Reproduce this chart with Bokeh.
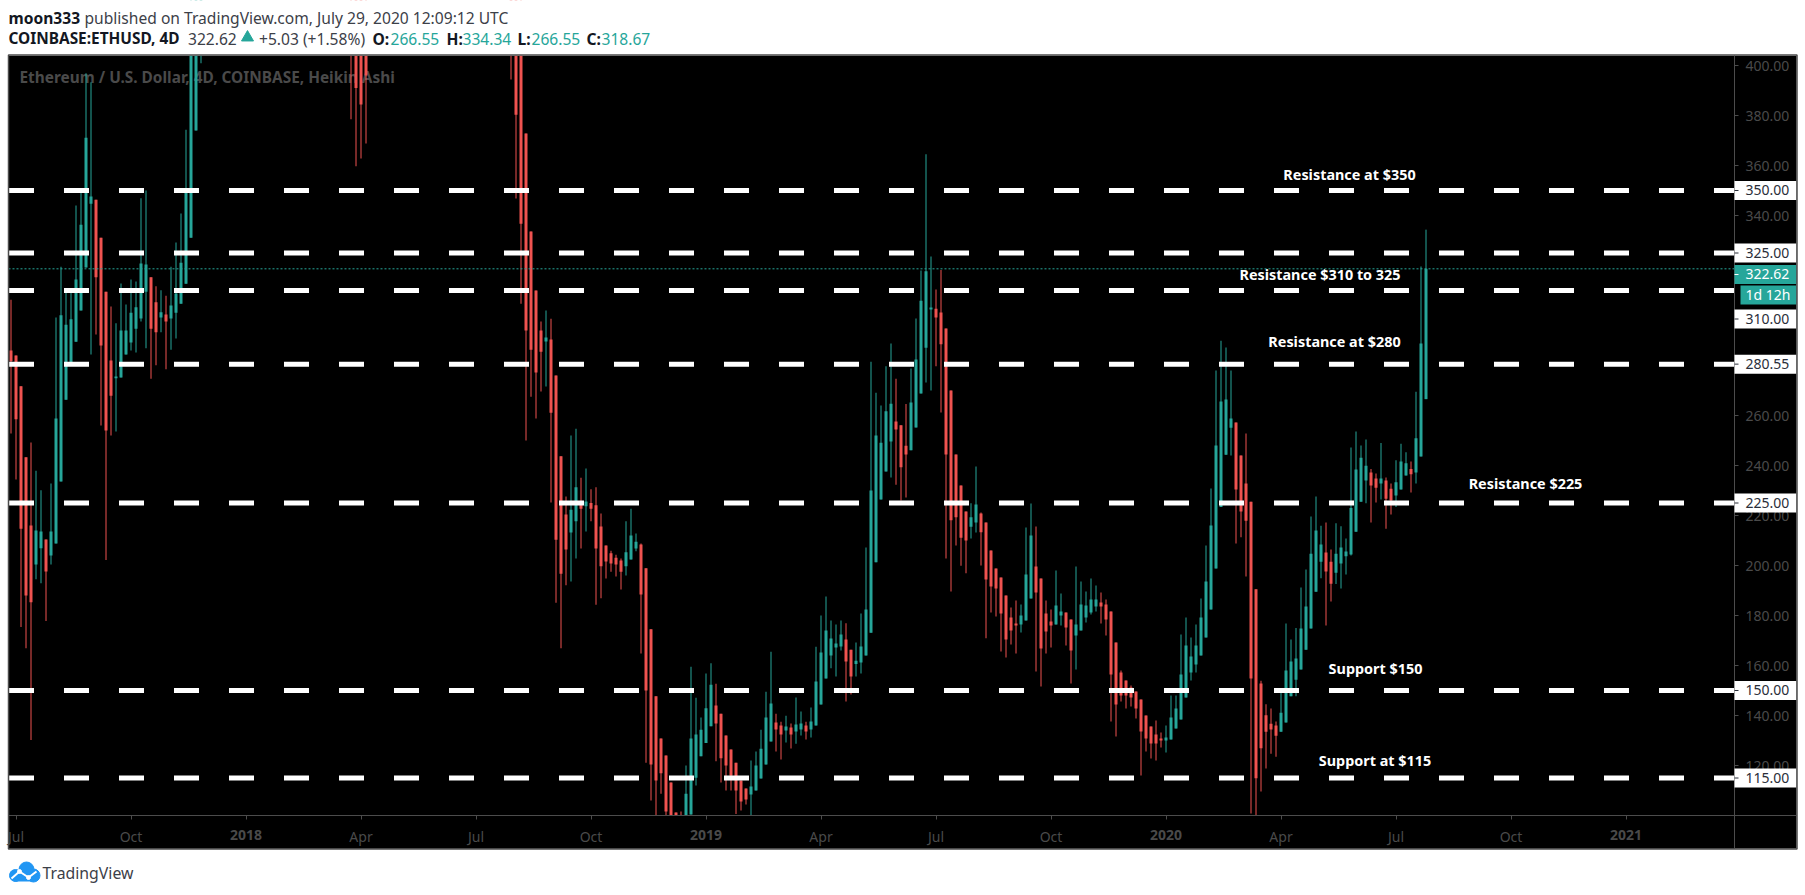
from bokeh.plotting import figure
from bokeh.models import ColumnDataSource, FixedTicker
from bokeh.core.properties import value
from bokeh.embed import file_html
from bokeh.resources import INLINE

UP = "#26a69a"
DOWN = "#ef5350"
FONT = "Noto Sans"

bar_index = list(range(0, 39)) + list(range(68, 72)) + list(range(100, 284))

bar_open = [
    286, 284, 271.7, 243.3, 216, 200.4, 206.9, 210.4, 204, 208.8,
    233.6, 266.3, 280.8, 289.5, 302, 319.2, 344.7, 346.3, 331.1, 309.5,
    282, 274.9, 275.2, 284.4, 289.2, 294.7, 298.8, 309.5, 315.3, 305.3,
    299.2, 300.4, 298.8, 301.1, 304.7, 312.7, 331.1, 374, 415,
    420, 430, 430, 425,
    430, 430, 420, 372.8, 333.6, 310, 294, 289.6, 290.4, 276,
    243.7, 220.4, 213.2, 217.7, 224.7, 223.7, 225, 224.1, 215.6, 208,
    204.9, 203.1, 202, 199.7, 202.4, 206.8, 208.4, 198.9, 174.5, 147.7,
    130.8, 124, 113.2, 101.2, 99, 98, 100.4, 115.1, 123.7, 129,
    135.7, 144, 140.7, 132, 126.4, 121.1, 114, 110.8, 108.4, 110,
    114.8, 120.4, 129.6, 137.2, 136, 134, 135.2, 133.6, 134.4, 136,
    134.4, 136, 144.4, 154.8, 164, 167.2, 167.6, 170.4, 166.3, 160.6,
    161.2, 164, 173.1, 201.3, 226.4, 237.6, 249.6, 257.6, 256.1, 247.9,
    246.1, 255.2, 268.8, 287.1, 302.4, 302.7, 301.2, 294.8, 270, 244.4,
    232, 221.6, 215.5, 217.2, 220.8, 217.2, 206, 198.8, 195.2, 188,
    179.2, 176.8, 176.4, 178, 186.8, 199.6, 194.8, 180.8, 177.6, 176.4,
    180, 181.2, 178.4, 172, 174, 179.2, 181.2, 183.6, 185.2, 184.4,
    181.6, 169.2, 157.2, 154, 151.2, 149.6, 146.4, 140, 135.6, 132.4,
    130.8, 130, 130.4, 134.8, 138.4, 147.2, 157.2, 160.4, 164, 171.2,
    182.4, 198.8, 223.4, 244.3, 255.1, 257.2, 244, 232.8, 225.5, 190.5,
    152.8, 140.1, 136.7, 136, 133.5, 137.2, 147.7, 154.3, 158.4, 166.3,
    174.8, 189.5, 201.5, 205.2, 201.5, 197.1, 200.8, 203.7, 204.4, 213.5,
    225.5, 234, 237.2, 234.8, 232.8, 234, 230.7, 228, 230.4, 236,
    238.6, 237.2, 243.6, 266.55,
]
bar_close = [
    281.7, 258.5, 214.7, 188, 185.3, 214, 213.6, 197.6, 213.6, 258.8,
    300.1, 296.3, 298.5, 314.4, 336.3, 371.1, 347.6, 315.3, 288, 254,
    267.9, 275.6, 294, 294, 301.1, 303.3, 320.8, 320.4, 294.7, 293.3,
    301.3, 297.6, 304, 308.8, 321.1, 349.7, 420, 450, 440,
    410, 391, 384.4, 396,
    415, 380.3, 336.7, 294, 286.3, 277.2, 285.5, 291.2, 261.1, 210.3,
    196.7, 206.4, 222.3, 231.3, 222.7, 225.6, 222.7, 206.8, 199.7, 201.6,
    200.8, 200.4, 197.5, 205.3, 212, 209.5, 188.4, 150, 120.4, 114,
    116.9, 101.6, 96, 96, 96, 108.7, 130.8, 132.4, 134.3, 142.9,
    152.3, 136.8, 122.9, 120, 115.9, 110, 105.6, 106.4, 111.6, 120,
    126.7, 139.2, 144.8, 134.4, 132.4, 135.6, 132.4, 136.4, 136.8, 133.6,
    137.6, 153.6, 165.2, 174, 170.8, 168.8, 172.4, 161.6, 155.6, 161.9,
    167.6, 182.4, 230, 252, 249.1, 261.7, 264.7, 254.4, 239.3, 244.4,
    265.2, 282.4, 305.9, 317.7, 303.2, 299.2, 288.5, 244.4, 218.1, 219.3,
    211.1, 210, 219.3, 224.4, 213.3, 194.4, 191.6, 190.8, 180.8, 170.4,
    174, 176, 180, 196.4, 212, 189.2, 166.8, 173.6, 176, 184,
    181.6, 175.2, 166, 176.4, 184.4, 184, 186.4, 186.4, 183.6, 178.4,
    156.4, 144.4, 148, 148, 147.2, 142.8, 133.6, 130.8, 128.8, 128.8,
    130, 131.2, 139.2, 142.8, 156.4, 168, 163.6, 168, 179.2, 193.6,
    216, 248, 265.6, 266.4, 258.8, 230.4, 221.6, 217.9, 154.8, 114.9,
    126.9, 133.5, 134.4, 131.9, 141.1, 158, 161.6, 162.8, 174.8, 183.6,
    204.7, 214, 208.4, 197.6, 192.7, 204.7, 207.2, 205.6, 223, 238.4,
    243.1, 239.9, 232, 231.1, 234.8, 226.7, 226, 233.3, 241.6, 240.9,
    236.5, 250.9, 288.8, 318.67,
]
bar_high = [
    306.3, 284, 271.7, 243.3, 249.2, 237.9, 230.1, 210.4, 232.8, 299.2,
    319.5, 309.4, 309.4, 344, 349, 396.9, 393.3, 346.3, 331.1, 309.5,
    303.6, 296.9, 312.8, 304.4, 314.4, 313.6, 346.9, 350, 315.3, 311.7,
    310.1, 307.9, 319.5, 329.2, 340.8, 374.3, 440, 470, 460,
    440, 440, 440, 440,
    440, 440, 430, 372.8, 333.6, 310, 297.6, 302, 298.7, 276,
    243.7, 227.6, 252, 254.7, 235.1, 238.8, 230.5, 231.3, 220.8, 208,
    205.9, 204.3, 202.8, 217.7, 222.7, 212.8, 208.8, 198.9, 174.5, 147.7,
    130.8, 124, 113.2, 101.2, 101.6, 120, 159.5, 147.1, 139.2, 156.8,
    160.9, 152.7, 140.7, 132, 126.4, 121.1, 114, 110.8, 122, 125.6,
    134.3, 149.5, 165.5, 140.7, 137.5, 139.9, 136.8, 147.2, 141.6, 137.5,
    143.2, 167.5, 180, 187.6, 178, 176.4, 178, 176.9, 166.3, 169.2,
    180.8, 207.2, 281.5, 269.1, 264, 279.7, 288.8, 274.7, 256.1, 264.6,
    278.8, 298.8, 318, 364.5, 323.6, 310.4, 318.2, 294.8, 270, 244.4,
    232, 221.6, 224.9, 239.6, 221.2, 217.2, 206, 198.8, 195.2, 188,
    183.2, 186, 184.4, 215.2, 224.8, 215.6, 194.8, 186, 182.4, 198,
    188.8, 181.2, 178.4, 199.6, 193.6, 189.6, 194.8, 192, 189.2, 186.4,
    181.6, 169.2, 158, 154, 152, 149.6, 146.4, 140, 135.6, 138,
    133.2, 136, 148, 148, 172.4, 179.2, 171.2, 176.4, 186.8, 208,
    230.8, 278, 289.9, 287.2, 278, 257.2, 244, 252.8, 225.5, 190.5,
    153.9, 144.5, 142.8, 137.6, 149, 176.8, 170.4, 175, 191.2, 198.4,
    219.6, 227.6, 215.9, 217.2, 206.4, 216.9, 215.7, 210.8, 247.2, 253.6,
    248, 250.4, 238.6, 236.8, 249, 235.2, 232.8, 242.1, 248.7, 245.3,
    241.6, 269.5, 319.6, 334.34,
]
bar_low = [
    252.8, 234.4, 175.4, 166.9, 130.2, 194.5, 192.9, 177.8, 200.4, 208.8,
    233.6, 266.3, 280.8, 289.5, 302, 319.2, 284.4, 292.4, 256, 202.2,
    252, 253.6, 275.2, 284.4, 286, 285.2, 297.6, 286.9, 274.7, 280.1,
    293.3, 278.5, 286.3, 290.8, 304.7, 312.7, 331.1, 374, 400.9,
    378.5, 359.7, 362.8, 368.8,
    394.4, 346.8, 304.7, 250, 267.5, 258.8, 269.6, 271.6, 225.2, 185.1,
    166.9, 192.1, 193.6, 202.8, 206.8, 213.6, 217.7, 184.3, 186.9, 194.8,
    197.5, 195.6, 190.4, 196, 202.4, 205.7, 164.8, 121.1, 106, 98,
    108.7, 98, 92, 92, 92, 95, 100.4, 112, 123.7, 129,
    135.7, 121.7, 113.2, 110, 110, 100.6, 102, 104.4, 98, 110,
    114.8, 120.4, 129.6, 125.6, 122.4, 129.2, 126.8, 128.7, 132, 130.4,
    131.2, 136, 144.4, 154.8, 158.9, 155.6, 166, 145.6, 148.4, 155.6,
    156.8, 164, 173.1, 201.3, 226.4, 237.6, 235.2, 232.3, 226, 227.2,
    246.1, 255.2, 268.8, 273.2, 270, 279.7, 261.2, 202.8, 189.6, 208,
    199.9, 196.9, 210.8, 213.2, 200, 170.9, 181.2, 179.6, 165.6, 163.2,
    168.4, 164.8, 173.2, 178, 186.8, 157.6, 151.6, 164.8, 167.2, 176.4,
    176, 168, 152.8, 158.4, 174, 177.2, 180.4, 181.6, 176.8, 172,
    137.6, 131.6, 145.6, 142.8, 143.6, 138.8, 116, 125.6, 122.8, 122,
    127.2, 125.2, 130.4, 134.8, 138.4, 147.2, 154, 157.2, 164, 171.2,
    182.4, 198.8, 223.4, 244.3, 244, 208.8, 211.3, 195.6, 100.8, 98,
    109.6, 118.8, 124.7, 123.5, 133.5, 137.2, 147.7, 147.7, 158.4, 166.3,
    174.8, 189.5, 194.9, 176, 185.6, 192.6, 190.8, 196.4, 204, 213.5,
    225.5, 224.9, 217.2, 225.2, 226.4, 214.7, 220.4, 223.4, 230.4, 236,
    229.2, 232.8, 243.6, 266.55,
]

level_values = [350, 325, 310, 280.55, 225, 150, 115]
last_price = 318.67

note_texts = ["Resistance at $350", "Resistance $310 to 325", "Resistance at $280",
              "Resistance $225", "Support $150", "Support at $115"]
price_ticks = [120, 140, 160, 180, 200, 220, 240, 260, 340, 360, 380, 400]
tile_labels = ["350.00", "325.00", "310.00", "280.55", "225.00", "150.00", "115.00"]
tick_bars = [1, 24, 47, 70, 93, 116, 139, 162, 185, 208, 231, 254, 277, 300, 323]
tick_names = ["Jul", "Oct", "2018", "Apr", "Jul", "Oct", "2019", "Apr", "Jul", "Oct",
              "2020", "Apr", "Jul", "Oct", "2021"]


def bar_at(page_x):
    return (page_x - 10.5) / 5.0


def price_at(page_y):
    return 404 - (page_y - 55) / 2.5


W, H = 1805, 895
CHART_L, CHART_R, CHART_T, CHART_B = 8, 1796, 55, 848
FRAME_R, FRAME_B = 1734, 815
GREY = "#4c4c4c"
AX_TEXT = "#4a4a4a"
INK = "#131722"
SOFT = "#3c4048"
HEAD = "15.6px"

src = ColumnDataSource(dict(
    x=bar_index,
    top=[max(o, c) for o, c in zip(bar_open, bar_close)],
    bottom=[min(o, c) for o, c in zip(bar_open, bar_close)],
    high=bar_high,
    low=bar_low,
    color=[UP if c >= o else DOWN for o, c in zip(bar_open, bar_close)],
))

p = figure(width=W, height=H, x_range=(bar_at(0), bar_at(W)), y_range=(price_at(H), price_at(0)),
           y_axis_location="right", output_backend="svg", toolbar_location=None,
           min_border=0, outline_line_color=None,
           background_fill_color="white", border_fill_color="white")
p.grid.visible = False

xa, ya = p.xaxis[0], p.yaxis[0]
xa.fixed_location = price_at(FRAME_B)
ya.fixed_location = bar_at(FRAME_R)
xa.bounds = (bar_at(CHART_L), bar_at(CHART_R))
ya.bounds = (price_at(CHART_B), price_at(CHART_T))
xa.ticker = FixedTicker(ticks=tick_bars)
xa.major_label_overrides = {b: ("" if n.isdigit() else n) for b, n in zip(tick_bars, tick_names)}
ya.ticker = FixedTicker(ticks=price_ticks)
ya.major_label_overrides = {t: f"{t}.00" for t in price_ticks}
for ax in (xa, ya):
    ax.axis_line_color = GREY
    ax.major_tick_line_color = GREY
    ax.minor_tick_line_color = None
    ax.major_tick_in = 0
    ax.major_tick_out = 4
    ax.major_label_text_color = AX_TEXT
    ax.major_label_text_font = FONT
    ax.major_label_text_font_size = "14px"
ya.major_label_standoff = 7
xa.major_label_standoff = 7


def ptext(px, py, t, color, size, bold=False, align="left", level="annotation"):
    p.text([bar_at(px)], [price_at(py)], text=[t], text_color=color, text_font=value(FONT),
           text_font_style="bold" if bold else "normal", text_font_size=size,
           text_baseline="middle", text_align=align, level=level)


def pbox(l, r, t, b, color, level="glyph"):
    p.quad(left=[bar_at(l)], right=[bar_at(r)], top=[price_at(t)], bottom=[price_at(b)],
           fill_color=color, line_color=None, level=level)


# chart panel and watermark, beneath the candles
pbox(CHART_L, CHART_R, CHART_T, CHART_B, "black")
ptext(19, 76.5, "Ethereum / U.S. Dollar, 4D, COINBASE, Heikin Ashi", AX_TEXT, "15.4px", bold=True, level="glyph")

p.segment("x", "low", "x", "high", source=src, color="color", line_width=1)
p.vbar("x", 0.6, "top", "bottom", source=src, fill_color="color", line_color=None)

# bars past the edges of the price scale end at its edges
pbox(CHART_L, FRAME_R, FRAME_B, CHART_B, "black")
pbox(-10, W + 10, -10, CHART_T, "white")

p.segment([bar_at(8.5)] * len(level_values), level_values, [bar_at(FRAME_R)] * len(level_values), level_values,
          line_color="white", line_width=5, line_dash="25 30")
p.segment([bar_at(CHART_L)], [last_price], [bar_at(FRAME_R)], [last_price],
          line_color=UP, line_width=1, line_dash="2 2")

# notes
note_spots = [(1349, 173.7), (1319.5, 273.7), (1334, 340.7), (1525, 482.7), (1375, 667.7), (1374.5, 759.7)]
for t, (px, py) in zip(note_texts, note_spots):
    ptext(px, py, t, "white", "14.4px", bold=True, align="center")

# year labels of the time axis
for b, n in zip(tick_bars, tick_names):
    if n.isdigit():
        p.text([b], [price_at(834)], text=[n], text_color=AX_TEXT, text_font=value(FONT),
               text_font_style="bold", text_font_size="14px", text_align="center",
               text_baseline="middle", level="annotation")


def tile(text, page_y, fill, color, left=FRAME_R, tick=True):
    top, bottom = page_y - 9.5, page_y + 9.5
    pbox(left, CHART_R, top, bottom, fill, level="annotation")
    if tick:
        p.segment([bar_at(FRAME_R)], [price_at(page_y)], [bar_at(FRAME_R + 4)], [price_at(page_y)],
                  line_color=color, line_width=1, level="annotation")
    ptext(1745, page_y - 0.5, text, color, "14px")


for lv, t in zip(level_values, tile_labels):
    page_y = 318.5 if t == "310.00" else 55 + (404 - lv) * 2.5
    tile(t, page_y, "white", "#2a2e39")
tile("322.62", 274, UP, "white")
tile("1d 12h", 294.5, UP, "white", left=1740, tick=False)

# chart border
p.quad(left=[bar_at(CHART_L)], right=[bar_at(CHART_R + 0.5)], top=[price_at(CHART_T - 0.5)], bottom=[price_at(CHART_B + 0.5)],
       fill_color=None, line_color=GREY, line_width=1.5, level="annotation")

# header
ptext(8, 17, "moon333", INK, HEAD, bold=True)
ptext(84, 17, "published on TradingView.com, July 29, 2020 12:09:12 UTC", SOFT, HEAD)
ptext(8, 38, "COINBASE:ETHUSD, 4D", INK, "15.4px", bold=True)
ptext(187.5, 38, "322.62", SOFT, HEAD)
p.scatter([bar_at(247)], [price_at(37)], marker="triangle", size=12, color=UP)
ptext(258.5, 38, "+5.03 (+1.58%)", SOFT, HEAD)
ptext(372, 38, "O:", INK, HEAD, bold=True)
ptext(390, 38, "266.55", UP, HEAD)
ptext(446, 38, "H:", INK, HEAD, bold=True)
ptext(462, 38, "334.34", UP, HEAD)
ptext(517, 38, "L:", INK, HEAD, bold=True)
ptext(531, 38, "266.55", UP, HEAD)
ptext(586, 38, "C:", INK, HEAD, bold=True)
ptext(601, 38, "318.67", UP, HEAD)

# footer with the logo
LOGO = "#2196f3"
p.scatter([bar_at(26), bar_at(15), bar_at(33)], [price_at(869), price_at(875), price_at(875)],
          marker="circle", size=[15, 12, 13], color=LOGO)
pbox(14, 33, 872, 881, LOGO)
p.line([bar_at(11), bar_at(19), bar_at(28), bar_at(36)],
       [price_at(878), price_at(871), price_at(877), price_at(871)], line_color="white", line_width=2)
p.scatter([bar_at(19), bar_at(28)], [price_at(871), price_at(877)], marker="circle", size=4, color="white")
ptext(42, 872, "TradingView", SOFT, "15.8px")

open("out.html", "w").write(file_html(p, INLINE))
